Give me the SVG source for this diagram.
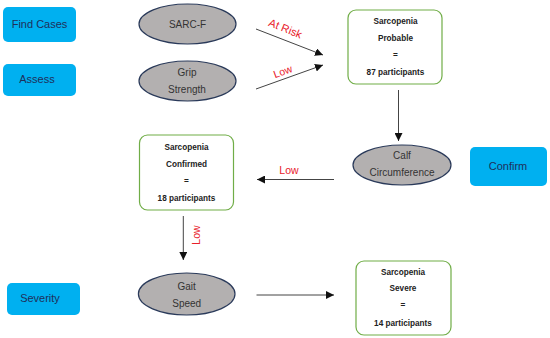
<svg xmlns="http://www.w3.org/2000/svg" width="550" height="338" viewBox="0 0 550 338">
<style>
.lbl{fill:#00b0f0;}
.lt{font-family:"Liberation Sans",Arial,sans-serif;font-size:11px;fill:#1f2f5a;text-anchor:middle;}
.ell{fill:#b3b0b0;stroke:#2a3a5a;stroke-width:1.2;}
.et{font-family:"Liberation Sans",Arial,sans-serif;font-size:10px;fill:#333;text-anchor:middle;}
.box{fill:#fff;stroke:#70ad47;stroke-width:1.2;}
.bt{font-family:"Liberation Sans",Arial,sans-serif;font-size:8.2px;font-weight:bold;fill:#222;text-anchor:middle;}
.red{font-family:"Liberation Sans",Arial,sans-serif;font-size:10.5px;fill:#e8202a;text-anchor:middle;}
.ln{stroke:#444;stroke-width:1;fill:none;marker-end:url(#ah);}
</style>
<defs>
<marker id="ah" viewBox="0 0 10 10" refX="10" refY="5" markerWidth="8" markerHeight="8" markerUnits="userSpaceOnUse" orient="auto">
<path d="M0,0 L10,5 L0,10 Z" fill="#111"/>
</marker>
</defs>
<rect width="550" height="338" fill="#fff"/>
<g id="find-cases"><rect class="lbl" x="3" y="7" width="73" height="35" rx="5"/><text class="lt" x="39.5" y="28">Find Cases</text></g>
<g id="assess"><rect class="lbl" x="3" y="64" width="73" height="32" rx="5"/><text class="lt" x="37" y="83">Assess</text></g>
<g id="confirm"><rect class="lbl" x="470" y="147" width="77" height="39" rx="5"/><text class="lt" x="508" y="170">Confirm</text></g>
<g id="severity"><rect class="lbl" x="7" y="283" width="73" height="32" rx="5"/><text class="lt" x="40" y="302">Severity</text></g>
<g id="sarcf"><ellipse class="ell" cx="187.5" cy="24" rx="48.5" ry="20"/><text class="et" x="187.5" y="27.5">SARC-F</text></g>
<g id="grip"><ellipse class="ell" cx="187.5" cy="81" rx="48.5" ry="20"/><text class="et" x="187" y="75.5">Grip</text><text class="et" x="187" y="92.5">Strength</text></g>
<g id="calf"><ellipse class="ell" cx="402" cy="165" rx="49" ry="20"/><text class="et" x="402" y="159">Calf</text><text class="et" x="402" y="176">Circumference</text></g>
<g id="gait"><ellipse class="ell" cx="186.7" cy="294" rx="48.3" ry="21"/><text class="et" x="186.7" y="290">Gait</text><text class="et" x="186.7" y="307">Speed</text></g>
<g id="probable"><rect class="box" x="348" y="10" width="94" height="74" rx="8"/>
<text class="bt" x="395.5" y="24">Sarcopenia</text><text class="bt" x="395.5" y="41">Probable</text><text class="bt" x="395.5" y="58">=</text><text class="bt" x="395.5" y="75">87 participants</text></g>
<g id="confirmed"><rect class="box" x="139.5" y="135" width="94" height="75" rx="8"/>
<text class="bt" x="186.5" y="149.5">Sarcopenia</text><text class="bt" x="186.5" y="166.5">Confirmed</text><text class="bt" x="186.5" y="183.5">=</text><text class="bt" x="186.5" y="201">18 participants</text></g>
<g id="severe"><rect class="box" x="356" y="261" width="95" height="74" rx="8"/>
<text class="bt" x="403" y="274.5">Sarcopenia</text><text class="bt" x="403" y="291">Severe</text><text class="bt" x="403" y="308">=</text><text class="bt" x="403" y="325.5">14 participants</text></g>
<g id="connectors">
<line class="ln" x1="256" y1="29" x2="323" y2="55"/>
<line class="ln" x1="256" y1="89" x2="323" y2="65"/>
<line class="ln" x1="398.5" y1="90" x2="398.5" y2="141"/>
<line class="ln" x1="334" y1="179.5" x2="257" y2="179.5"/>
<line class="ln" x1="183.3" y1="216" x2="183.3" y2="260"/>
<line class="ln" x1="256.5" y1="295" x2="334" y2="295"/>
<text class="red" style="font-size:11px" transform="translate(284,32) rotate(22)">At Risk</text>
<text class="red" transform="translate(284,75) rotate(-20)">Low</text>
<text class="red" x="289" y="174">Low</text>
<text class="red" transform="translate(199.5,235) rotate(-90)">Low</text>
</g>
</svg>
